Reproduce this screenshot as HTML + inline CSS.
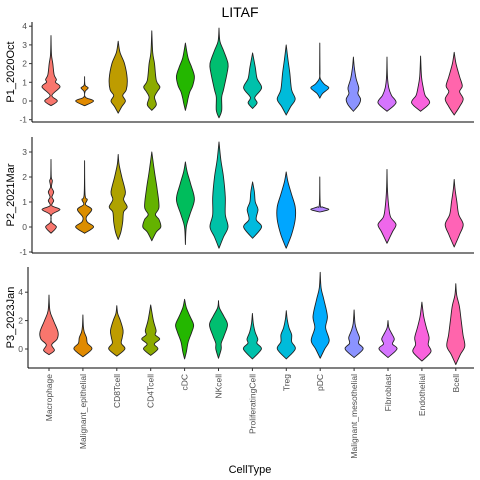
<!DOCTYPE html>
<html><head><meta charset="utf-8"><style>
html,body{margin:0;padding:0;background:#fff}
svg{display:block;font-family:"Liberation Sans",sans-serif}
</style></head><body>
<svg id="chart" width="480" height="480" viewBox="0 0 480 480">
<text x="240" y="17" text-anchor="middle" font-size="14" fill="#000">LITAF</text>
<text x="250" y="473" text-anchor="middle" font-size="11" fill="#000">CellType</text>
</svg>
<script>
const categories=["Macrophage","Malignant_epithelial","CD8Tcell","CD4Tcell","cDC","NKcell","ProliferatingCell","Treg","pDC","Malignant_mesothelial","Fibroblast","Endothelial","Bcell"];
const colors13=["#F8766D","#E18A00","#BE9C00","#8CAB00","#24B700","#00BE70","#00C1AB","#00BBDA","#00ACFC","#8B93FF","#D575FE","#F962DD","#FF65AC"];
const colorsP2=["#F8766D","#DB8E00","#AEA200","#64B200","#00BD5C","#00C1A7","#00BADE","#00A6FF","#B385FF",null,"#EF67EB",null,"#FF63B6"];
const panelNames=["P1_2020Oct","P2_2021Mar","P3_2023Jan"];
const ticksP1=[-1,0,1,2,3,4];
const ticksP2=[-1,0,1,2,3];
const ticksP3=[0,2,4];
const densP1=[
[[-0.25,0],[0,0.7],[0.3,0.1],[0.75,1],[1,0.5],[1.15,0.6],[1.4,0.35],[2,0.2],[2.5,0.05],[3.5,0]],
[[-0.25,0],[0,1],[0.2,0.1],[0.5,0.05],[0.7,0.4],[0.85,0.05],[1.3,0]],
[[-0.65,0],[-0.3,0.4],[0,0.8],[0.3,0.5],[0.6,0.9],[1.2,1],[2,0.7],[2.6,0.2],[3.2,0]],
[[-0.5,0],[-0.2,0.5],[0.2,0.3],[0.5,0.6],[0.75,0.9],[1.1,0.5],[2,0.3],[2.6,0.1],[3.75,0]],
[[-0.5,0],[-0.1,0.2],[0.15,0.3],[0.5,0.5],[0.8,0.8],[1.3,1],[1.8,0.7],[2.3,0.3],[3.1,0]],
[[-0.9,0],[-0.5,0.3],[0.2,0.3],[0.6,0.5],[1.5,0.9],[2,1],[2.7,0.5],[3.2,0.1],[3.9,0]],
[[-0.4,0],[-0.1,0.5],[0.2,0.25],[0.7,1],[1.2,0.5],[1.8,0.3],[2.57,0]],
[[-0.75,0],[-0.3,0.5],[0.1,1],[0.6,0.6],[1.5,0.4],[2.2,0.2],[3,0]],
[[0.15,0],[0.4,0.3],[0.7,1],[0.9,0.5],[1.2,0.05],[1.6,0.02],[3.1,0]],
[[-0.55,0],[-0.2,0.6],[0.1,0.8],[0.4,0.5],[0.7,0.6],[1.2,0.3],[1.8,0.1],[2.35,0]],
[[-0.55,0],[-0.1,1],[0.3,0.5],[0.7,0.2],[1.3,0.05],[2.35,0]],
[[-0.55,0],[-0.1,1],[0.3,0.5],[0.7,0.3],[1.3,0.1],[2.4,0]],
[[-0.75,0],[-0.3,0.6],[0.1,1],[0.5,0.6],[0.8,0.9],[1.3,0.6],[2,0.2],[2.6,0]]
];
const densP2=[
[[-0.25,0],[0,0.6],[0.2,0.05],[0.5,0.1],[0.7,1],[0.85,0.1],[1.05,0.3],[1.2,0.1],[1.4,0.3],[1.6,0.05],[1.85,0.15],[2,0.03],[2.7,0]],
[[-0.25,0],[0,1],[0.2,0.3],[0.4,0.2],[0.7,0.8],[0.9,0.1],[1.1,0.3],[1.3,0.05],[2.65,0]],
[[-0.5,0],[-0.2,0.3],[0.2,0.5],[0.6,0.6],[0.8,1],[1.1,0.6],[1.4,0.8],[2,0.4],[2.5,0.1],[2.9,0]],
[[-0.55,0],[-0.2,0.5],[0,1],[0.3,0.8],[0.5,0.4],[0.8,0.8],[1.5,0.6],[2.2,0.3],[3,0]],
[[-0.7,0],[0,0.1],[0.5,0.5],[1.1,1],[1.7,0.6],[2.2,0.2],[2.6,0]],
[[-0.85,0],[-0.4,0.5],[0,1],[0.5,0.7],[1.2,0.7],[2,0.5],[2.7,0.2],[3.4,0]],
[[-0.45,0],[0,1],[0.3,0.4],[0.7,0.6],[1.0,0.3],[1.4,0.2],[1.8,0]],
[[-0.85,0],[-0.3,0.6],[0.3,1],[0.8,1],[1.3,0.6],[1.8,0.2],[2.2,0]],
[[0.6,0],[0.7,1],[0.8,0.3],[0.9,0.05],[2.0,0]],
null,
[[-0.65,0],[-0.2,0.6],[0.1,1],[0.4,0.4],[0.8,0.2],[1.5,0.05],[2.3,0]],
null,
[[-0.8,0],[-0.3,0.6],[0.1,1],[0.5,0.5],[1,0.3],[1.5,0.1],[1.9,0]]
];
const densP3=[
[[-0.4,0],[-0.1,0.6],[0.3,0.3],[0.7,0.9],[1.2,1],[2,0.5],[2.7,0.1],[3.8,0]],
[[-0.55,0],[0,1],[0.4,0.5],[0.8,0.4],[1.2,0.15],[1.6,0.05],[2.4,0]],
[[-0.5,0],[0,0.9],[0.4,0.5],[0.8,0.6],[1.3,0.7],[2,0.4],[2.5,0.1],[3.05,0]],
[[-0.45,0],[0,0.8],[0.35,0.4],[0.7,1],[1,0.5],[1.3,0.6],[2,0.3],[3.1,0]],
[[-0.7,0],[-0.2,0.2],[0.5,0.4],[1.2,0.8],[1.7,1],[2.3,0.6],[2.9,0.2],[3.5,0]],
[[-0.65,0],[0,0.3],[0.4,0.3],[0.9,0.6],[1.7,1],[2.3,0.6],[2.9,0.1],[3.4,0]],
[[-0.7,0],[0,1],[0.4,0.5],[0.7,0.6],[1.2,0.3],[1.8,0.1],[2.5,0]],
[[-0.7,0],[0,1],[0.5,0.6],[1,0.6],[1.5,0.3],[2.1,0.1],[2.7,0]],
[[-0.65,0],[0,0.5],[0.6,1],[1.5,0.6],[2.3,0.8],[3.5,0.4],[4.3,0.1],[5.4,0]],
[[-0.6,0],[0,1],[0.4,0.5],[0.8,0.6],[1.3,0.3],[1.8,0.1],[2.75,0]],
[[-0.6,0],[0,1],[0.35,0.5],[0.7,0.7],[1.1,0.4],[1.5,0.1],[2.0,0]],
[[-0.85,0],[-0.2,1],[0.3,0.7],[0.8,0.8],[1.5,0.5],[2.3,0.2],[3.3,0]],
[[-1.1,0],[-0.4,0.5],[0.2,1],[1,0.8],[2,0.6],[3,0.4],[3.8,0.1],[4.6,0]]
];
const densities=[densP1,densP2,densP3];
const palettes=[colors13,colorsP2,colors13];
const tickSets=[ticksP1,ticksP2,ticksP3];
const panels=[
 {axisX:32,right:474,top:22,bottom:122,y0:101,pxPerUnit:18.7,x0:51,step:33.6},
 {axisX:32,right:474,top:137,bottom:253,y0:227,pxPerUnit:25,x0:51,step:33.6},
 {axisX:28,right:474,top:267,bottom:368,y0:349,pxPerUnit:14.2,x0:49,step:33.9}
];
const NS="http://www.w3.org/2000/svg";
const svg=document.getElementById('chart');
function mk(tag,attrs,parent){const e=document.createElementNS(NS,tag);for(const k in attrs)e.setAttribute(k,attrs[k]);(parent||svg).appendChild(e);return e;}
const HALF=9;
function smoothPath(pts){
 let d="M"+pts[0][0].toFixed(2)+","+pts[0][1].toFixed(2);
 for(let i=0;i<pts.length-1;i++){
  const p0=pts[Math.max(0,i-1)],p1=pts[i],p2=pts[i+1],p3=pts[Math.min(pts.length-1,i+2)];
  const c1=[p1[0]+(p2[0]-p0[0])/6,p1[1]+(p2[1]-p0[1])/6];
  const c2=[p2[0]-(p3[0]-p1[0])/6,p2[1]-(p3[1]-p1[1])/6];
  d+=" C"+c1[0].toFixed(2)+","+c1[1].toFixed(2)+" "+c2[0].toFixed(2)+","+c2[1].toFixed(2)+" "+p2[0].toFixed(2)+","+p2[1].toFixed(2);
 }
 return d;
}
panels.forEach((p,pi)=>{
 const g=mk('g',{});
 
 
 const yS=v=>p.y0-p.pxPerUnit*v;
 const xS=i=>p.x0+p.step*i;
 const ya=mk('line',{x1:p.axisX,y1:p.top,x2:p.axisX,y2:p.bottom,stroke:'#000','stroke-width':1},g);
 
 
 const xa=mk('line',{x1:p.axisX,y1:p.bottom,x2:p.right,y2:p.bottom,stroke:'#000','stroke-width':1},g);
 
 
 tickSets[pi].forEach(t=>{
  const y=yS(t);
  const tl=mk('line',{x1:p.axisX-3,y1:y,x2:p.axisX,y2:y,stroke:'#333','stroke-width':1},g);
  
  
  const tx=mk('text',{x:p.axisX-5,y:y+3,'text-anchor':'end','font-size':8.5,fill:'#4d4d4d'},g);
  tx.textContent=String(t);
  
  
 });
 const yl=mk('text',{transform:`translate(14,${(p.top+p.bottom)/2}) rotate(-90)`,'text-anchor':'middle','font-size':11,fill:'#000'},g);
 yl.textContent=panelNames[pi];
 
 
 densities[pi].forEach((dens,ci)=>{
  if(!dens)return;
  const cx=xS(ci);
  const right=dens.map(k=>[cx+k[1]*HALF,yS(k[0])]);
  const left=dens.slice().reverse().map(k=>[cx-k[1]*HALF,yS(k[0])]);
  const dR=smoothPath(right);
  const dL=smoothPath(left).replace(/^M[^ C]+/,'');
  const path=mk('path',{d:dR+" L"+left[0][0].toFixed(2)+","+left[0][1].toFixed(2)+dL+" Z",fill:palettes[pi][ci],stroke:'#222','stroke-width':0.9,'stroke-linejoin':'round'},g);
  
  
 });
 if(pi===2){
  categories.forEach((c,ci)=>{
   const x=xS(ci);
   const tk=mk('line',{x1:x,y1:p.bottom,x2:x,y2:p.bottom+3,stroke:'#333','stroke-width':1},g);
   
   
   const t=mk('text',{transform:`translate(${x+3},${p.bottom+6}) rotate(-90)`,'text-anchor':'end','font-size':8.5,fill:'#4d4d4d'},g);
   t.textContent=c;
   
   
  });
 }
});
</script>
</body></html>
